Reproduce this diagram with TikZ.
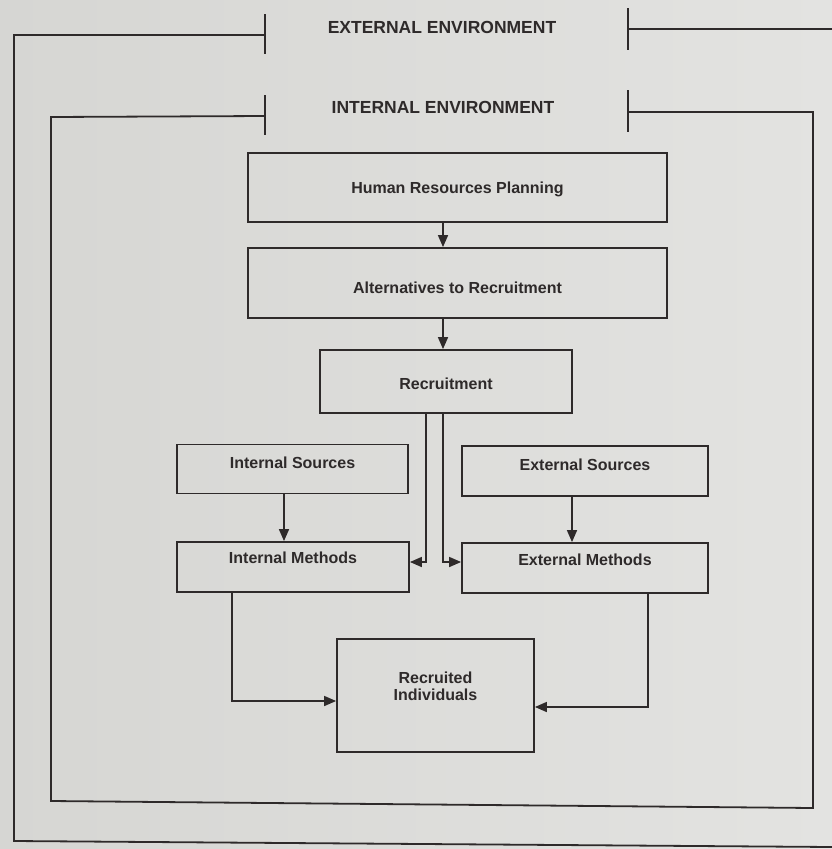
\documentclass[tikz,border=0pt]{standalone}
\usepackage{fontspec}
\setmainfont{Liberation Sans}
\usetikzlibrary{arrows.meta}
\definecolor{paperleft}{HTML}{D6D6D3}
\definecolor{paperright}{HTML}{E3E3E1}
\definecolor{ink}{HTML}{2E2A2A}
\tikzset{
  px/.style={x=1pt,y=-1pt},
  frame/.style={draw=ink,line width=1.8pt},
  stagebox/.style={draw=ink,line width=1.8pt,rectangle,inner sep=0pt,
    font=\bfseries\fontsize{16}{19}\selectfont,text=ink,align=center},
  envlabel/.style={font=\bfseries\fontsize{17.5}{20}\selectfont,text=ink},
  link/.style={draw=ink,line width=1.6pt,-{Triangle[length=12pt,width=10pt]}},
}
\begin{document}
\begin{tikzpicture}[px]
\shade[left color=paperleft,right color=paperright] (0,0) rectangle (832,849);
\useasboundingbox (0,0) rectangle (832,849);

% external environment frame
\draw[frame] (265,14) -- (265,54);
\draw[frame] (628,8) -- (628,50);
\draw[frame] (265,35) -- (14,35) -- (14,841) -- (832,847);
\draw[frame] (628,29) -- (832,29);
\node[envlabel] (extenv) at (442,27) {EXTERNAL ENVIRONMENT};

% internal environment frame
\draw[frame] (265,95) -- (265,135);
\draw[frame] (628,90) -- (628,132);
\draw[frame] (265,116) -- (51,117) -- (51,801) -- (813,808) -- (813,112) -- (628,112);
\node[envlabel] (intenv) at (443,107) {INTERNAL ENVIRONMENT};

% process boxes
\node[stagebox,minimum width=419pt,minimum height=69pt,text height=16pt] (hrp) at (457.5,187.5) {Human Resources Planning};
\node[stagebox,minimum width=419pt,minimum height=70pt,text height=21pt] (alt) at (457.5,283) {Alternatives to Recruitment};
\node[stagebox,minimum width=252pt,minimum height=63pt,text height=17pt] (rec) at (446,381.5) {Recruitment};
\node[stagebox,minimum width=231pt,minimum height=49pt,text depth=12pt] (isrc) at (292.5,469) {Internal Sources};
\node[stagebox,minimum width=246pt,minimum height=50pt,text depth=12pt] (esrc) at (585,471) {External Sources};
\node[stagebox,minimum width=232pt,minimum height=50pt,text depth=19pt] (imeth) at (293,567) {Internal Methods};
\node[stagebox,minimum width=246pt,minimum height=50pt,text depth=16pt] (emeth) at (585,568) {External Methods};
\node[stagebox,minimum width=197pt,minimum height=113pt] (recind) at (435.5,695.5) {};
\node[font=\bfseries\fontsize{16}{17}\selectfont,text=ink,align=center] (recindtxt) at (435.5,686.5) {Recruited\\Individuals};

% flow between the stages
\draw[link] (hrp.south -| 443,0) -- (alt.north -| 443,0);
\draw[link] (alt.south -| 443,0) -- (rec.north -| 443,0);
\draw[link] (isrc.south -| 284,0) -- (imeth.north -| 284,0);
\draw[link] (esrc.south -| 572,0) -- (emeth.north -| 572,0);
\draw[link] (rec.south -| 426,0) |- (imeth.east |- 0,562);
\draw[link] (rec.south -| 443,0) |- (emeth.west |- 0,562);
\draw[link] (imeth.south -| 232,0) |- (recind.west |- 0,701);
\draw[link] (emeth.south -| 648,0) |- (recind.east |- 0,707);
\end{tikzpicture}
\end{document}
